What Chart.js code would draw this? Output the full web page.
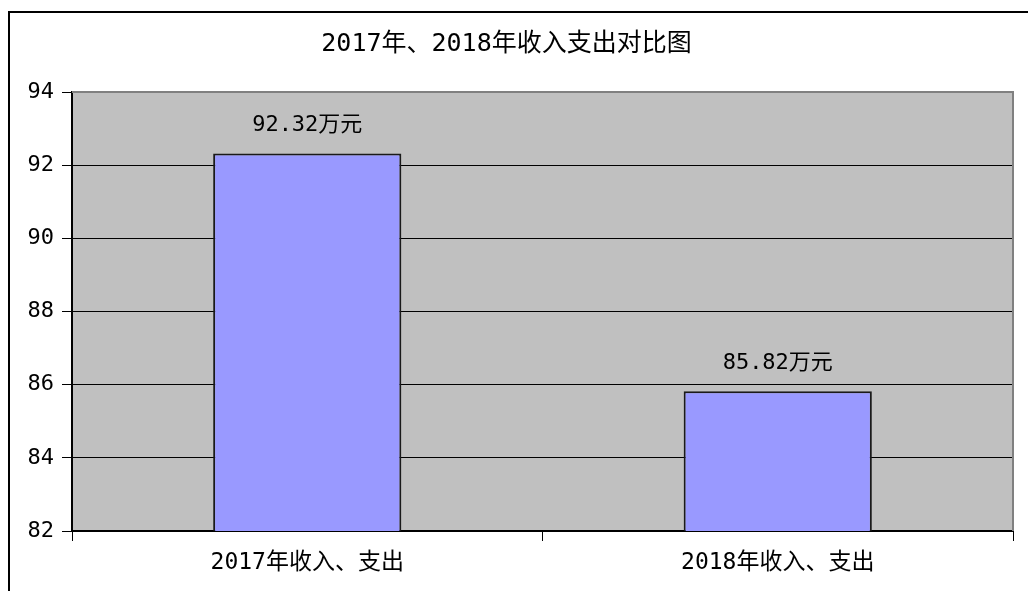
<!DOCTYPE html>
<html>
<head>
<meta charset="utf-8">
<script src="https://cdn.jsdelivr.net/npm/chart.js@4/dist/chart.umd.min.js"></script>
<style>
  html, body { margin: 0; padding: 0; background: #fff; }
  #wrap { width: 1028px; height: 591px; }
</style>
</head>
<body>
<div id="wrap"><canvas id="income-chart" width="1028" height="591"></canvas></div>
<script>
// chart data
const categories = ["2017年收入、支出", "2018年收入、支出"];
const amounts = [92.32, 85.82];
const valueLabels = ["92.32万元", "85.82万元"];
const yMin = 82, yMax = 94, yStep = 2;

const fontFamily = "'DejaVu Sans Mono', 'Noto Sans CJK SC', monospace";

// grey plot area, outer frame, bar labels
const excelLook = {
  id: 'excelLook',
  beforeDraw(chart) {
    const ctx = chart.ctx;
    const a = chart.chartArea;
    ctx.save();
    ctx.fillStyle = '#fff';
    ctx.fillRect(0, 0, chart.width, chart.height);
    ctx.strokeStyle = '#000';
    ctx.lineWidth = 2;
    ctx.beginPath();
    ctx.moveTo(9, chart.height + 5);
    ctx.lineTo(9, 12);
    ctx.lineTo(chart.width + 5, 12);
    ctx.stroke();
    ctx.fillStyle = '#C0C0C0';
    ctx.fillRect(a.left, a.top, a.right - a.left, a.bottom - a.top);
    ctx.restore();
  },
  beforeDatasetsDraw(chart) {
    const ctx = chart.ctx;
    const a = chart.chartArea;
    ctx.save();
    ctx.strokeStyle = '#808080';
    ctx.lineWidth = 2;
    ctx.beginPath();
    ctx.moveTo(a.left, a.top);
    ctx.lineTo(a.right, a.top);
    ctx.lineTo(a.right, a.bottom);
    ctx.stroke();
    ctx.restore();
  },
  afterDatasetsDraw(chart) {
    const ctx = chart.ctx;
    const meta = chart.getDatasetMeta(0);
    ctx.save();
    ctx.font = '22px ' + fontFamily;
    ctx.fillStyle = '#000';
    ctx.textAlign = 'center';
    ctx.textBaseline = 'middle';
    meta.data.forEach((bar, i) => {
      ctx.fillText(valueLabels[i], bar.x, bar.y - 28);
    });
    ctx.restore();
  }
};

const incomeCanvas = document.getElementById('income-chart');

let incomeChart = new Chart(incomeCanvas, {
  type: 'bar',
  data: {
    labels: categories,
    datasets: [{
      data: amounts,
      backgroundColor: '#9999FF',
      borderColor: '#1a1a1a',
      borderWidth: 2,
      barPercentage: 0.4,
      categoryPercentage: 1
    }]
  },
  options: {
    responsive: false,
    animation: false,
    layout: { padding: { left: 0, right: 15, top: 0, bottom: 0 } },
    scales: {
      x: {
        afterFit: (scale) => { scale.height = 60; },
        grid: { drawOnChartArea: false, color: '#000', tickLength: 10 },
        border: { color: '#000', width: 2 },
        ticks: { color: '#000', padding: 8, font: { family: fontFamily, size: 23 } }
      },
      y: {
        min: yMin,
        max: yMax,
        afterFit: (scale) => { scale.width = 72; },
        grid: { color: '#000', tickLength: 10 },
        border: { color: '#000', width: 2 },
        ticks: { stepSize: yStep, color: '#000', padding: 8, font: { family: fontFamily, size: 22 } }
      }
    },
    plugins: {
      legend: { display: false },
      tooltip: { enabled: false },
      title: {
        display: true,
        text: '2017年、2018年收入支出对比图',
        color: '#000',
        font: { family: fontFamily, size: 25, weight: 'normal' },
        padding: { top: 29, bottom: 33 }
      }
    }
  },
  plugins: [excelLook]
});
</script>
</body>
</html>
